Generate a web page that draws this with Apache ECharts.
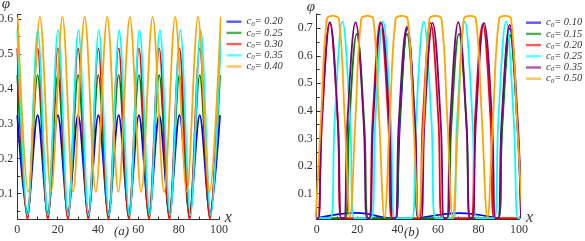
<!DOCTYPE html>
<html><head><meta charset="utf-8">
<script src="https://cdn.jsdelivr.net/npm/echarts@6/dist/echarts.min.js"></script>
<style>html,body{margin:0;padding:0;background:#fff}#c{width:585px;height:241px}</style>
</head><body><div id="c"></div>
<script>
// ---------- tick labels ----------
const xTickLabels = [0, 20, 40, 60, 80, 100];
const aYTickLabels = [0.1, 0.2, 0.3, 0.4, 0.5, 0.6];
const bYTickLabels = [0.1, 0.2, 0.3, 0.4, 0.5, 0.6, 0.7];

// ---------- panel (a): extremes ----------
const aNames = ['0.20', '0.25', '0.30', '0.35', '0.40'];
const aX1 = [0,5.0,10.05,15.1,20.1,25.1,30.15,35.2,40.2,45.2,50.25,55.3,60.3,65.3,70.35,75.4,80.4,85.4,90.45,95.5,100.5];
const aY_c020 = [0.324,0.045,0.324,0.045,0.324,0.045,0.324,0.045,0.324,0.045,0.324,0.045,0.324,0.045,0.324,0.045,0.324,0.045,0.324,0.045,0.324];
const aY_c025 = [0.439,0.032,0.439,0.032,0.439,0.032,0.439,0.032,0.439,0.032,0.439,0.032,0.439,0.032,0.439,0.032,0.439,0.032,0.439,0.032,0.439];
const aY_c030 = [0.516,0.025,0.516,0.025,0.516,0.025,0.516,0.025,0.516,0.025,0.516,0.025,0.516,0.025,0.516,0.025,0.516,0.025,0.516,0.025,0.516];
const aX_c035 = [0,5.05,10.1,15.15,20.2,25.25,30.3,35.35,40.4,45.45,50.5,55.55,60.6,65.65,70.7,75.75,80.8,85.85,90.9,95.95,101];
const aY_c035 = [0.568,0.037,0.568,0.037,0.568,0.037,0.568,0.037,0.568,0.037,0.568,0.037,0.568,0.037,0.568,0.037,0.568,0.037,0.568,0.037,0.568];
const aX_c040 = [0.2,5.4,11.2,16.7,22.4,27.6,33.4,38.9,44.6,50.1,55.8,61.4,67.1,72.8,78.3,84.0,89.6,95.3,100.9];
const aY_c040 = [0.606,0.104,0.606,0.104,0.606,0.104,0.606,0.104,0.606,0.104,0.606,0.104,0.606,0.104,0.606,0.104,0.606,0.104,0.606];

// ---------- panel (b): points ----------
const bNames = ['0.10', '0.15', '0.20', '0.25', '0.35', '0.50'];
const b_c010 = [[0,0.01],[20,0.029],[38,0.01],[39.2,0.01],[41.1,0.35],[44.8,0.70],[48.5,0.35],[50.4,0.01],[70.5,0.028],[89.7,0.01],[91.6,0.35],[95.4,0.70],[99.2,0.35],[101,0.01]];
const b_c015 = [[0,0.01],[14.1,0.01],[16,0.34],[19.8,0.68],[23.6,0.34],[25.5,0.01],[38.9,0.01],[40.8,0.34],[44.6,0.68],[48.4,0.34],[50.3,0.01],[64.6,0.01],[66.5,0.34],[70.3,0.68],[74.1,0.34],[76,0.01],[89.8,0.01],[91.7,0.34],[95.5,0.675],[99.3,0.34],[101.2,0.01]];
const b_c020 = [[0,0.01],[0.8,0.01],[2.6,0.36],[6.5,0.72],[10.4,0.36],[12.2,0.01],[25.8,0.01],[27.6,0.36],[31.5,0.722],[35.4,0.36],[37.2,0.01],[50.6,0.01],[52.4,0.36],[56.3,0.72],[60.2,0.36],[62,0.01],[76.4,0.01],[78.2,0.36],[82.1,0.715],[86,0.36],[87.8,0.01],[101,0.01]];
const b_c025 = [[0,0.01],[6.9,0.01],[8.85,0.36],[12.7,0.724],[16.55,0.36],[18.5,0.01],[27,0.01],[28.95,0.36],[32.8,0.724],[36.65,0.36],[38.6,0.01],[47.1,0.01],[49.05,0.36],[52.9,0.724],[56.75,0.36],[58.7,0.01],[67.4,0.01],[69.35,0.36],[73.2,0.724],[77.05,0.36],[79,0.01],[87.8,0.01],[89.75,0.36],[93.6,0.724],[97.45,0.36],[99.4,0.01],[101,0.01]];
const b_c035 = [[0,0.01],[0.9,0.01],[2.5,0.36],[6.5,0.722],[10.5,0.36],[12.1,0.01],[13.6,0.01],[15.2,0.36],[19.2,0.722],[23.2,0.36],[24.8,0.01],[26.3,0.01],[27.9,0.36],[31.9,0.72],[35.9,0.36],[37.5,0.01],[39,0.01],[40.6,0.36],[44.6,0.706],[48.6,0.36],[50.2,0.01],[51.7,0.01],[53.3,0.36],[57.3,0.72],[61.3,0.36],[62.9,0.01],[64.4,0.01],[66,0.36],[70,0.722],[74,0.36],[75.6,0.01],[77.1,0.01],[78.7,0.36],[82.7,0.72],[86.7,0.36],[88.3,0.01],[89.8,0.01],[91.4,0.36],[95.4,0.712],[99.4,0.36],[101,0.01]];
const b_c050 = [[-0.5,0.012],[2.2,0.38],[5,0.733],[8,0.745],[11,0.733],[13.8,0.38],[16.5,0.012],[19.2,0.38],[22,0.733],[25,0.745],[28,0.733],[30.8,0.38],[33.5,0.012],[36.2,0.38],[39,0.733],[42,0.745],[45,0.733],[47.7,0.38],[50.4,0.012],[53,0.38],[55.7,0.733],[58.7,0.745],[61.7,0.733],[64.5,0.38],[67.2,0.012],[70,0.38],[72.7,0.733],[75.7,0.745],[78.7,0.733],[81.6,0.38],[84.4,0.012],[87.2,0.38],[90.1,0.733],[93.1,0.745],[96.1,0.733],[98.9,0.38],[101.6,0.012]];

// ---------- colours ----------
const aColors = ['#0000ff', '#008000', '#ff0000', '#00ffff', '#ffa500'];
const bColors = ['#0000ff', '#008000', '#ff0000', '#00ffff', '#800080', '#ffa500'];

const zip = (xs, ys) => xs.map((x, i) => [x, ys[i]]);
const aData = [zip(aX1, aY_c020), zip(aX1, aY_c025), zip(aX1, aY_c030), zip(aX_c035, aY_c035), zip(aX_c040, aY_c040)];
const bData = [b_c010, b_c015, b_c020, b_c025, b_c035, b_c050];

const serif = '"Liberation Serif", "Times New Roman", serif';
const ink = '#333';

function mkSeries(name, data, color, gi, smooth) {
  return {
    type: 'line', name: name, data: data, xAxisIndex: gi, yAxisIndex: gi,
    showSymbol: false, symbol: 'none', smooth: smooth, clip: true,
    lineStyle: { color: color, width: 1.8 }, itemStyle: { color: color },
    emphasis: { disabled: true }, silent: true, animation: false
  };
}

const series = [];
aNames.forEach((n, i) => series.push(mkSeries('a' + n, aData[i], aColors[i], 0, 0.33)));
bNames.forEach((n, i) => series.push(mkSeries('b' + n, bData[i], bColors[i], 1, 0.4)));

function xAxisCfg(gi) {
  return {
    gridIndex: gi, type: 'value', min: 0, max: 100, interval: 10,
    axisLine: { show: true, onZero: false, lineStyle: { color: ink, width: 1 } },
    axisTick: { show: true, inside: true, length: 3, lineStyle: { color: ink } },
    axisLabel: {
      margin: 4, color: ink, fontFamily: serif, fontSize: 12,
      formatter: v => xTickLabels.indexOf(Math.round(v)) >= 0 && Math.abs(v - Math.round(v)) < 1e-6 ? String(Math.round(v)) : ''
    },
    splitLine: { show: false }
  };
}
function yAxisCfg(gi, min, max, split, labels) {
  return {
    gridIndex: gi, type: 'value', min: min, max: max, splitNumber: split,
    axisLine: { show: true, onZero: false, lineStyle: { color: ink, width: 1 } },
    axisTick: { show: true, inside: true, length: 4, lineStyle: { color: ink } },
    minorTick: { show: true, splitNumber: 2, length: 3, lineStyle: { color: ink } },
    axisLabel: {
      margin: 4, color: ink, fontFamily: serif, fontSize: 12, showMinLabel: false, showMaxLabel: false,
      formatter: v => { const r = Math.round(v * 10) / 10; return (Math.abs(v - r) < 1e-6 && labels.indexOf(r) >= 0) ? r.toFixed(1) : ''; }
    },
    splitLine: { show: false }, minorSplitLine: { show: false }
  };
}

const labelMap = {};
aNames.forEach(n => labelMap['a' + n] = n);
bNames.forEach(n => labelMap['b' + n] = n);
const rich = {
  c: { fontFamily: serif, fontStyle: 'italic', fontSize: 10.5, color: ink, lineHeight: 11 },
  s: { fontFamily: serif, fontStyle: 'italic', fontSize: 7, color: ink, lineHeight: 6, verticalAlign: 'bottom' },
  t: { fontFamily: serif, fontStyle: 'italic', fontSize: 10.5, color: ink, lineHeight: 11 }
};
function legendCfg(left, top, names, prefix) {
  return {
    orient: 'vertical', left: left, top: top, padding: 0, itemWidth: 15, itemHeight: 2.4, itemGap: 0.2,
    icon: 'rect', selectedMode: false, data: names.map(n => prefix + n),
    formatter: n => '{c|c}{s|0}{t|= ' + labelMap[n] + '}',
    textStyle: { fontFamily: serif, fontStyle: 'italic', fontSize: 10.5, color: ink, lineHeight: 11, rich: rich },
    itemStyle: { opacity: 0.65, borderWidth: 0 }
  };
}

const txt = (s, x, y, size) => ({
  type: 'text', x: x, y: y, silent: true,
  style: { text: s, font: 'italic ' + size + 'px ' + serif, fill: ink, align: 'center', verticalAlign: 'middle' }
});

const option = {
  animation: false,
  backgroundColor: '#fff',
  grid: [
    { left: 17.3, top: 14.5, width: 201.7, height: 205, outerBoundsMode: 'none', containLabel: false },
    { left: 316.7, top: 14, width: 202.3, height: 205.5, outerBoundsMode: 'none', containLabel: false }
  ],
  xAxis: [xAxisCfg(0), xAxisCfg(1)],
  yAxis: [yAxisCfg(0, 0.025, 0.613, 6, aYTickLabels), yAxisCfg(1, 0.005, 0.752, 7, bYTickLabels)],
  legend: [legendCfg(226.5, 16.2, aNames, 'a'), legendCfg(526, 17.2, bNames, 'b')],
  graphic: [
    txt('\u03c6', 6, 4, 15), txt('\u03c6', 311, 7.5, 15),
    txt('x', 228.3, 217.5, 16), txt('x', 529.5, 218.2, 16),
    txt('(a)', 121.5, 231.5, 13), txt('(b)', 411.5, 233, 13)
  ],
  series: series
};
const chart = echarts.init(document.getElementById('c'), null, { renderer: 'canvas' });
chart.setOption(option);
</script></body></html>
